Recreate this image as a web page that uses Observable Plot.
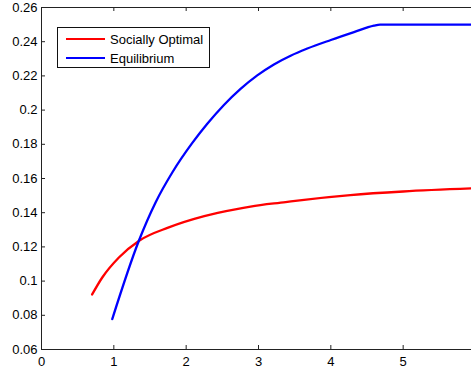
<!DOCTYPE html>
<html>
<head>
<meta charset="utf-8">
<script src="https://cdn.jsdelivr.net/npm/d3@7"></script>
<script src="https://cdn.jsdelivr.net/npm/@observablehq/plot@0.6"></script>
<style>
  html, body { margin: 0; padding: 0; background: #fff; overflow: hidden; }
  #wrap { position: relative; width: 471px; height: 369px; overflow: hidden; }
  #wrap svg { display: block; max-width: none; }
  #legend { position: absolute; left: 57px; top: 27px; width: 153px; height: 41px; border: 1px solid #111; background: #fff;
            font-family: "Liberation Sans", Arial, sans-serif; font-size: 13px; color: #000; box-sizing: border-box; }
  .row { position: absolute; left: 8px; height: 16px; display: flex; align-items: center; white-space: nowrap; }
  .sw { width: 39px; height: 2px; margin-right: 5px; }
</style>
</head>
<body>
<div id="wrap"></div>
<script>
const seriesNames = ["Socially Optimal", "Equilibrium"];
const seriesColors = ["#ff0000", "#0000ff"];

const socialX = [0.70, 0.84, 1.07, 1.35, 1.76, 2.25, 2.68, 2.89, 3.375, 3.60, 4.27, 5.00, 5.95];
const socialY = [0.0922, 0.1021, 0.1138, 0.1236, 0.1314, 0.1380, 0.1420, 0.1436, 0.1462, 0.1474, 0.1503, 0.1524, 0.1542];

const eqX = [0.978, 1.346, 1.577, 1.808, 2.08, 2.292, 2.522, 2.752, 2.983, 3.213, 3.444, 3.675, 4.00, 4.32, 4.596, 4.68, 5.20, 5.95];
const eqY = [0.0778, 0.1236, 0.1460, 0.1635, 0.1805, 0.1920, 0.2030, 0.2124, 0.2203, 0.2267, 0.2318, 0.2360, 0.2410, 0.2456, 0.2494, 0.2500, 0.2500, 0.2500];

const xTicks = [0, 1, 2, 3, 4, 5];
const yTicks = [0.06, 0.08, 0.1, 0.12, 0.14, 0.16, 0.18, 0.2, 0.22, 0.24, 0.26];
const xDomain = [0, 6];
const yDomain = [0.06, 0.26];

const social = socialX.map((x, i) => ({x, y: socialY[i], s: seriesNames[0]}));
const eq = eqX.map((x, i) => ({x, y: eqY[i], s: seriesNames[1]}));

const fmt = d => String(+d.toFixed(2));

const W = 471, H = 369, mL = 41, mR = -4, mT = 7, mB = 20;
const innerW = W - mL - mR, innerH = H - mT - mB;
const tk = 4;

const chart = Plot.plot({
  width: W,
  height: H,
  marginLeft: mL,
  marginRight: mR,
  marginTop: mT,
  marginBottom: mB,
  style: { fontFamily: "'Liberation Sans', Arial, sans-serif", fontSize: "13px", color: "#000", background: "#fff", overflow: "visible" },
  x: { domain: xDomain },
  y: { domain: yDomain },
  marks: [
    Plot.axisX({ticks: xTicks, tickSize: 0, tickPadding: 7, tickFormat: fmt, label: null, fontSize: 13}),
    Plot.axisY({ticks: yTicks, tickSize: 0, tickPadding: 4, tickFormat: fmt, label: null, fontSize: 13}),
    Plot.tickX(xTicks, {x: d => d, insetTop: innerH - tk, stroke: "#222"}),
    Plot.tickX(xTicks, {x: d => d, insetBottom: innerH - tk, stroke: "#222"}),
    Plot.tickY(yTicks, {y: d => d, insetRight: innerW - tk, stroke: "#222"}),
    Plot.tickY(yTicks, {y: d => d, insetLeft: innerW - tk, stroke: "#999"}),
    Plot.ruleY(yDomain, {stroke: "#222", strokeWidth: 1}),
    Plot.ruleX([xDomain[0]], {stroke: "#222", strokeWidth: 1}),
    Plot.line(social, {x: "x", y: "y", stroke: seriesColors[0], strokeWidth: 2.3, curve: "monotone-x"}),
    Plot.line(eq, {x: "x", y: "y", stroke: seriesColors[1], strokeWidth: 2.3, curve: "monotone-x"})
  ]
});

const wrap = document.getElementById("wrap");
wrap.appendChild(chart);

const legend = document.createElement("div");
legend.id = "legend";
seriesNames.forEach((n, i) => {
  const row = document.createElement("div");
  row.className = "row";
  row.style.top = (i === 0 ? 3 : 22) + "px";
  const sw = document.createElement("span");
  sw.className = "sw";
  sw.style.background = seriesColors[i];
  const t = document.createElement("span");
  t.textContent = n;
  row.appendChild(sw);
  row.appendChild(t);
  legend.appendChild(row);
});
wrap.appendChild(legend);
</script>
</body>
</html>
